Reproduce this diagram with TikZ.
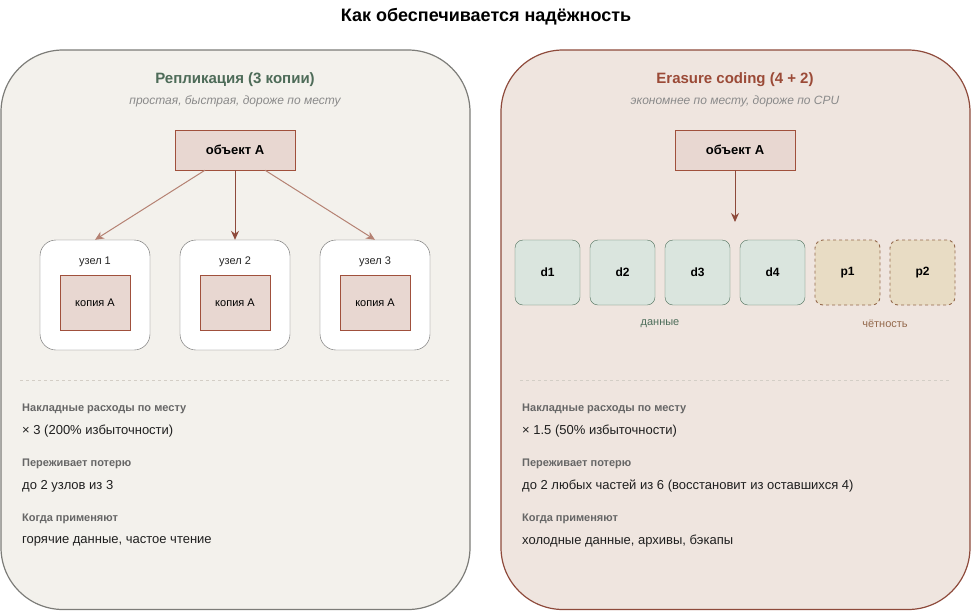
\documentclass[tikz,border=0pt]{standalone}
\usepackage{fontspec}
\setmainfont{Liberation Sans}
\usepackage{xcolor}
\usetikzlibrary{arrows.meta}
\definecolor{repbg}{HTML}{F3F1EC}
\definecolor{repedge}{HTML}{7C7C78}
\definecolor{ecbg}{HTML}{EFE5DF}
\definecolor{ecedge}{HTML}{8E4A3B}
\definecolor{objfill}{HTML}{E8D7D1}
\definecolor{objedge}{HTML}{A0503C}
\definecolor{reptitle}{HTML}{4D6B58}
\definecolor{ectitle}{HTML}{9B4A37}
\definecolor{subgray}{HTML}{8A8A8A}
\definecolor{dfill}{HTML}{DAE5DE}
\definecolor{dedge}{HTML}{4E6E5B}
\definecolor{pfill}{HTML}{E8DCC4}
\definecolor{pedge}{HTML}{94694C}
\definecolor{sepline}{HTML}{D3CEC6}
\definecolor{softarrow}{HTML}{B58273}
\tikzset{>={Stealth[width=8pt,length=9pt]}}
\tikzset{
  fs/.style={font=\fontsize{#1}{#1}\selectfont},
  panel/.style={line width=1.2pt,rounded corners=62pt},
  objbox/.style={draw=objedge,fill=objfill,minimum width=120pt,minimum height=40pt,
    inner sep=0pt,font=\fontsize{13}{13}\selectfont\bfseries},
  hostbox/.style={draw=black!60,fill=white,rounded corners=16pt,minimum width=110pt,
    minimum height=110pt,inner sep=0pt},
  hostlbl/.style={fs=11,text=black!85},
  copybox/.style={draw=objedge,fill=objfill,minimum width=70pt,minimum height=55pt,
    inner sep=0pt,fs=11},
  datab/.style={draw=dedge,fill=dfill,rounded corners=8pt,minimum size=65pt,inner sep=0pt,
    font=\fontsize{12}{12}\selectfont\bfseries},
  parb/.style={draw=pedge,fill=pfill,dash pattern=on 3pt off 3pt,line width=0.9pt,
    rounded corners=8pt,minimum size=65pt,inner sep=0pt,
    font=\fontsize{12}{12}\selectfont\bfseries},
  head/.style={font=\fontsize{11}{11}\selectfont\bfseries,text=black!60,anchor=west,inner sep=0pt},
  body/.style={fs=13,text=black!88,anchor=west,inner sep=0pt},
  sub/.style={font=\fontsize{12}{12}\selectfont\itshape,text=subgray},
  flow/.style={->,draw=ecedge,line width=1pt},
  fanout/.style={->,draw=softarrow,line width=1pt}
}
\begin{document}
\begin{tikzpicture}[x=1pt,y=-1pt]
  \useasboundingbox (0,0) rectangle (972,611);
  \node[font=\fontsize{18}{18}\selectfont\bfseries] (title) at (486,16.5) {Как обеспечивается надёжность};

  % replication panel
  \draw[panel,draw=repedge,fill=repbg] (1,50) rectangle (470,609.5);
  \node[font=\fontsize{15}{15}\selectfont\bfseries,text=reptitle] (repHdr) at (235,79.5) {Репликация (3 копии)};
  \node[sub] (repSub) at (235,101) {простая, быстрая, дороже по месту};
  \node[objbox] (objL) at (235,150) {объект А};
  \foreach \i/\x in {1/95,2/235,3/375}{
    \node[hostbox] (node\i) at (\x,295) {};
    \node[hostlbl] (nodeLbl\i) at (\x,262) {узел \i};
    \node[copybox] (copy\i) at (\x,302.5) {копия А};
  }
  \draw[fanout] ([xshift=-30pt]objL.south) -- (node1.north);
  \draw[flow] (objL.south) -- (node2.north);
  \draw[fanout] ([xshift=30pt]objL.south) -- (node3.north);
  \draw[sepline,dashed,line width=0.8pt] (20,380) -- (450,380);
  \node[head] (repH1) at (22,409) {Накладные расходы по месту};
  \node[body] (repB1) at (22,431) {× 3 (200\% избыточности)};
  \node[head] (repH2) at (22,464) {Переживает потерю};
  \node[body] (repB2) at (22,486) {до 2 узлов из 3};
  \node[head] (repH3) at (22,519) {Когда применяют};
  \node[body] (repB3) at (22,541) {горячие данные, частое чтение};

  % erasure coding panel
  \draw[panel,draw=ecedge,fill=ecbg] (501,50) rectangle (970,609.5);
  \node[font=\fontsize{15}{15}\selectfont\bfseries,text=ectitle] (ecHdr) at (735,79.5) {Erasure coding (4 + 2)};
  \node[sub] (ecSub) at (735,101) {экономнее по месту, дороже по CPU};
  \node[objbox] (objR) at (735,150) {объект А};
  \coordinate (split) at (735,222);
  \draw[flow] (objR.south) -- (split);
  \foreach \i/\x in {1/547.5,2/622.5,3/697.5,4/772.5}
    \node[datab] (d\i) at (\x,272.5) {d\i};
  \foreach \i/\x in {1/847.5,2/922.5}
    \node[parb] (p\i) at (\x,272.5) {p\i};
  \node[fs=11,text=dedge] (dataLbl) at (660,324) {данные};
  \node[fs=11,text=pedge] (parLbl) at (885,324) {чётность};
  \draw[sepline,dashed,line width=0.8pt] (520,380) -- (950,380);
  \node[head] (ecH1) at (522,409) {Накладные расходы по месту};
  \node[body] (ecB1) at (522,431) {× 1.5 (50\% избыточности)};
  \node[head] (ecH2) at (522,464) {Переживает потерю};
  \node[body] (ecB2) at (522,486) {до 2 любых частей из 6 (восстановит из оставшихся 4)};
  \node[head] (ecH3) at (522,519) {Когда применяют};
  \node[body] (ecB3) at (522,541) {холодные данные, архивы, бэкапы};
\end{tikzpicture}
\end{document}
